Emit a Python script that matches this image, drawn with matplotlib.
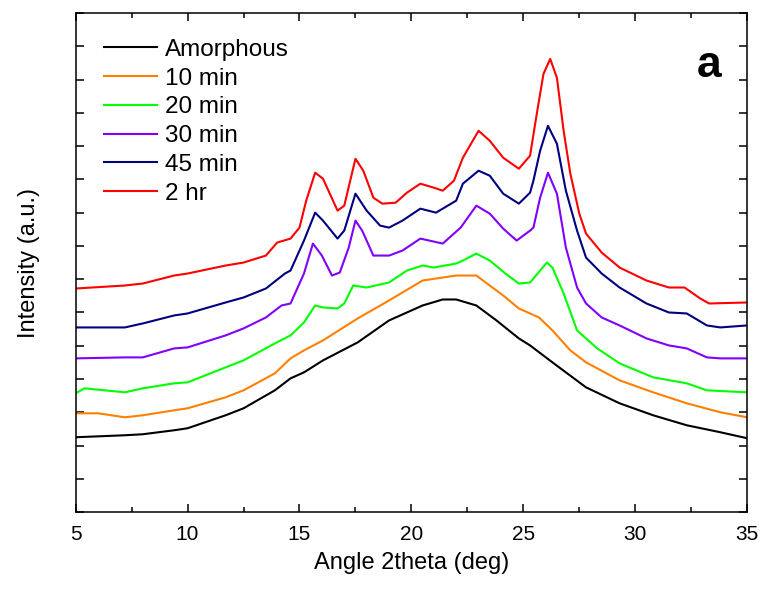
import matplotlib
matplotlib.use('Agg')
import matplotlib.pyplot as plt
from matplotlib.ticker import MultipleLocator, NullFormatter

plt.rcParams['font.family'] = ['Liberation Sans', 'DejaVu Sans']

# XRD patterns, intensity in arbitrary units (stacked offsets as in the figure)
x_amorphous = [5, 7.2, 8, 9.4, 10, 11.7, 12.5, 13.9, 14.6, 15.2, 16.05, 17.6, 19.0, 20.5, 21.4,
               22.0, 22.9, 23.8, 24.8, 25.3, 26.3, 27.8, 29.3, 30.8, 32.3, 33.8, 35]
y_amorphous = [225, 231, 234, 246, 252, 291, 312, 366, 402, 420, 456, 510, 576, 621, 639,
               639, 621, 576, 522, 501, 450, 375, 327, 291, 261, 240, 222]

x_10min = [5, 6, 7.2, 8, 9.4, 10, 11.7, 12.5, 13.9, 14.6, 15.2, 16.05, 17.6, 19.0, 20.5, 22.0,
           22.9, 23.2, 24.1, 24.8, 25.7, 26.3, 27.1, 27.8, 29.3, 30.8, 32.3, 33.8, 35]
y_10min = [297, 297, 285, 291, 306, 312, 345, 366, 417, 462, 486, 516, 582, 636, 696, 711,
           711, 696, 651, 612, 585, 546, 486, 450, 396, 360, 327, 300, 285]

x_20min = [5, 5.4, 7.2, 8, 9.4, 10, 11.7, 12.5, 13.9, 14.6, 15.2, 15.7, 16.05, 16.7, 17.0, 17.4,
           18.0, 19.0, 19.8, 20.5, 21.0, 22.0, 22.3, 22.9, 23.5, 24.2, 24.8, 25.3, 26.05, 26.3,
           26.8, 27.4, 28.3, 29.3, 30.8, 32.3, 33.2, 35]
y_20min = [357, 372, 360, 372, 387, 390, 435, 456, 507, 531, 570, 621, 615, 612, 627, 681,
           675, 690, 726, 741, 735, 747, 756, 777, 756, 717, 687, 690, 750, 735,
           657, 546, 492, 447, 405, 387, 366, 360]

x_30min = [5, 7.2, 8, 9.4, 10, 11.7, 12.5, 13.5, 14.2, 14.6, 15.2, 15.6, 16.0, 16.45, 16.8,
           17.2, 17.5, 17.8, 18.3, 19.0, 19.6, 20.4, 20.8, 21.4, 22.2, 22.9, 23.5, 24.1, 24.7,
           25.3, 25.45, 25.75, 26.1, 26.5, 26.9, 27.4, 27.8, 28.5, 29.3, 30.5, 31.5, 32.3,
           33.2, 33.8, 35]
y_30min = [462, 465, 465, 492, 495, 531, 552, 585, 621, 627, 717, 807, 771, 711, 720,
           795, 876, 846, 771, 771, 786, 822, 816, 807, 855, 921, 897, 852, 816,
           846, 855, 945, 1020, 957, 795, 675, 627, 585, 561, 522, 501, 492,
           465, 462, 462]

x_45min = [5, 7.2, 8, 9.4, 10, 11.7, 12.5, 13.5, 14.35, 14.6, 15.2, 15.7, 16.05, 16.7, 17.0,
           17.5, 18.0, 18.6, 19.0, 19.6, 20.4, 21.1, 22.0, 22.3, 23.0, 23.5, 24.1, 24.8, 25.3,
           25.45, 25.75, 26.1, 26.5, 26.9, 27.4, 27.8, 28.5, 29.3, 30.5, 31.5, 32.3, 33.2,
           33.8, 35]
y_45min = [555, 555, 567, 591, 597, 630, 645, 672, 717, 726, 816, 900, 876, 822, 846,
           957, 906, 861, 855, 876, 912, 900, 936, 987, 1026, 1011, 957, 927, 960,
           996, 1086, 1161, 1107, 966, 846, 765, 717, 675, 627, 600, 597, 561,
           555, 561]

x_2hr = [5, 7.2, 8, 9.4, 10, 11.7, 12.5, 13.5, 14.0, 14.6, 15.0, 15.3, 15.7, 16.05, 16.7, 17.0,
         17.5, 17.85, 18.3, 18.7, 19.3, 19.8, 20.4, 21.0, 21.4, 21.9, 22.3, 23.0, 23.5, 24.1,
         24.8, 25.3, 25.6, 25.9, 26.2, 26.5, 26.8, 27.1, 27.5, 27.8, 28.5, 29.3, 30.5, 31.5,
         32.2, 32.9, 33.3, 35]
y_2hr = [672, 681, 687, 711, 717, 741, 750, 771, 810, 822, 855, 936, 1020, 1002, 906, 921,
         1062, 1026, 945, 927, 930, 960, 987, 975, 966, 996, 1065, 1146, 1116, 1065,
         1032, 1071, 1197, 1317, 1362, 1305, 1146, 1017, 897, 837, 780, 735, 696, 675,
         675, 642, 627, 630]

labels = ['Amorphous', '10 min', '20 min', '30 min', '45 min', '2 hr']
colors = ['black', '#FF8000', '#00FF00', '#8000FF', '#000080', '#FF0000']

xs = [x_amorphous, x_10min, x_20min, x_30min, x_45min, x_2hr]
ys = [y_amorphous, y_10min, y_20min, y_30min, y_45min, y_2hr]

fig = plt.figure(figsize=(7.64, 5.90), dpi=100)
ax = fig.add_axes([0.099, 0.132, 0.879, 0.846])

for x, y, c, lab in zip(xs, ys, colors, labels):
    ax.plot(x, y, color=c, lw=1.5, label=lab)

ax.set_xlim(5, 35)
ax.set_ylim(0, 1500)
ax.xaxis.set_major_locator(MultipleLocator(5))
ax.xaxis.set_minor_locator(MultipleLocator(2.5))
ax.yaxis.set_major_locator(MultipleLocator(100))
ax.yaxis.set_major_formatter(NullFormatter())
ax.tick_params(which='both', direction='in', top=True, right=True, width=1.1)
ax.tick_params(which='major', length=6)
ax.tick_params(which='minor', length=3.5)
ax.tick_params(axis='x', labelsize=15, pad=9)
for s in ax.spines.values():
    s.set_linewidth(1.1)

ax.set_xlabel('Angle 2theta (deg)', fontsize=17, labelpad=6)
ax.set_ylabel('Intensity (a.u.)', fontsize=17, labelpad=22)

ax.text(0.943, 0.895, 'a', transform=ax.transAxes, fontsize=32, fontweight='bold',
        ha='center', va='center')

ax.legend(loc='upper left', bbox_to_anchor=(0.015, 0.985), frameon=False, fontsize=17.5,
          handlelength=2.2, handletextpad=0.3, labelspacing=0.28, borderaxespad=0.35)

fig.savefig('out.png', dpi=100)
